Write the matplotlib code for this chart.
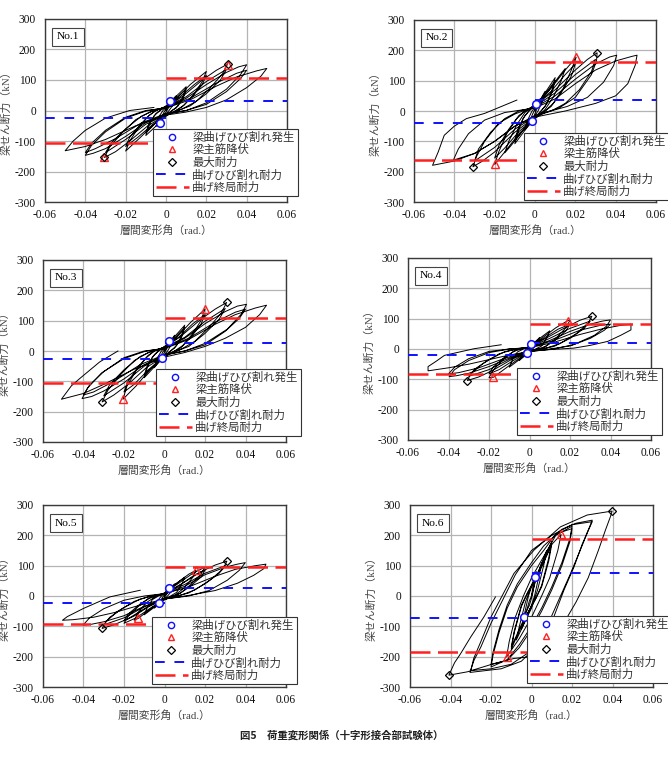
import matplotlib
matplotlib.use("Agg")
import matplotlib.pyplot as plt
from matplotlib.lines import Line2D

plt.rcParams['font.family'] = ['Liberation Serif', 'Noto Sans CJK JP', 'DejaVu Sans']

# ---------------- data ----------------
specimen_labels = ["No.1", "No.2", "No.3", "No.4", "No.5", "No.6"]

crack_strength_pos = [30, 36, 27, 20, 26, 77]
crack_strength_neg = [-26, -38, -28, -19, -22, -72]
ultimate_pos = [108, 161, 110, 82, 96, 187]
ultimate_neg = [-108, -160, -107, -82, -93, -184]

crack_x = [[0.0021, -0.0029], [0.0007, -0.0014], [0.0023, -0.0012], [0.0007, -0.0013], [0.0024, -0.0027], [0.0015, -0.0038]]
crack_y = [[31, -40], [23, -32], [32, -23], [16, -14], [25, -23], [63, -69]]
yield_x = [[0.0307, -0.0305], [0.0204, -0.0200], [0.0200, -0.0204], [0.0188, -0.0178], [0.0156, -0.0130], [0.0146, -0.0123]]
yield_y = [[150, -154], [177, -176], [138, -159], [93, -93], [85, -74], [203, -201]]
max_x = [[0.0305, -0.0305], [0.0308, -0.0308], [0.0307, -0.0308], [0.0308, -0.0307], [0.0308, -0.0308], [0.0398, -0.0408]]
max_y = [[153, -153], [192, -184], [160, -168], [108, -104], [115, -107], [280, -261]]

loop_no1 = [
    (0, 0),
    (0.0021, 31), (0.0025, 35), (0.0015, 12), (0.0005, 0), (-0.001, -15), (-0.0029, -40), (-0.0015, -12), (-0.0005, 0),
    (0.002, 28), (0.005, 48), (0.0035, 18), (0.0015, 0), (0, -12), (-0.005, -52), (-0.0035, -20), (-0.0015, 0), (0, 10),
    (0.004, 40), (0.01, 78), (0.0085, 45), (0.006, 15), (0.003, 0), (0, -18), (-0.004, -45), (-0.01, -82), (-0.0085, -50), (-0.006, -18), (-0.003, 0), (0, 15),
    (0.005, 40), (0.01, 70), (0.0085, 40), (0.005, 8), (0.003, 0), (0, -15), (-0.005, -40), (-0.01, -74), (-0.0085, -44), (-0.005, -10), (-0.003, 0), (0, 12),
    (0.005, 38), (0.012, 85), (0.02, 128), (0.018, 95), (0.014, 55), (0.009, 18), (0.005, 0), (0, -18), (-0.006, -45), (-0.013, -90), (-0.02, -133), (-0.018, -100), (-0.014, -60), (-0.009, -20), (-0.005, 0), (0, 14),
    (0.007, 45), (0.014, 85), (0.02, 115), (0.018, 85), (0.013, 45), (0.008, 12), (0.005, 0), (0, -16), (-0.007, -48), (-0.014, -88), (-0.02, -118), (-0.018, -88), (-0.013, -48), (-0.008, -14), (-0.005, 0), (0, 12),
    (0.008, 45), (0.018, 100), (0.025, 132), (0.0305, 152), (0.028, 120), (0.022, 75), (0.015, 30), (0.008, 5), (0, -15), (-0.009, -50), (-0.018, -100), (-0.025, -135), (-0.0305, -154), (-0.028, -120), (-0.022, -75), (-0.015, -30), (-0.008, -5), (0, 12),
    (0.01, 45), (0.02, 95), (0.03, 135), (0.027, 100), (0.02, 55), (0.012, 15), (0.006, 0), (0, -14), (-0.01, -45), (-0.02, -95), (-0.03, -138), (-0.027, -105), (-0.02, -60), (-0.012, -18), (-0.006, 0), (0, 10),
    (0.01, 40), (0.02, 85), (0.03, 125), (0.036, 143), (0.04, 150), (0.037, 118), (0.03, 70), (0.02, 25), (0.01, 0), (0, -12), (-0.01, -40), (-0.02, -85), (-0.03, -125), (-0.036, -140), (-0.04, -147), (-0.037, -115), (-0.03, -70), (-0.02, -25), (-0.01, -2), (0, 10),
    (0.012, 40), (0.025, 90), (0.035, 122), (0.04, 132), (0.037, 105), (0.03, 62), (0.02, 20), (0.01, 0), (0, -10), (-0.012, -40), (-0.025, -92), (-0.035, -125), (-0.04, -138), (-0.037, -108), (-0.03, -65), (-0.02, -22), (-0.01, 0), (0, 8),
    (0.012, 35), (0.025, 80), (0.035, 110), (0.045, 130), (0.05, 138), (0.047, 112), (0.04, 75), (0.03, 35), (0.02, 10), (0.01, -5), (0, -15), (-0.015, -50), (-0.03, -95), (-0.04, -118), (-0.05, -132), (-0.046, -100), (-0.04, -65), (-0.03, -25), (-0.018, 0), (-0.006, 10),
]

loop_no2 = [
    (0, 0),
    (0.0007, 23), (0.0025, 40), (0.0015, 15), (0.0005, 0), (-0.0014, -32), (-0.0025, -42), (-0.0015, -15), (-0.0005, 0),
    (0.002, 30), (0.005, 65), (0.0035, 30), (0.0015, 0), (0, -15), (-0.005, -62), (-0.0035, -28), (-0.0015, 0), (0, 12),
    (0.004, 50), (0.01, 110), (0.0085, 70), (0.006, 25), (0.003, 0), (0, -25), (-0.004, -55), (-0.01, -108), (-0.0085, -70), (-0.006, -25), (-0.003, 0), (0, 20),
    (0.005, 55), (0.01, 100), (0.0085, 62), (0.005, 15), (0.003, 0), (0, -20), (-0.005, -55), (-0.01, -98), (-0.0085, -60), (-0.005, -15), (-0.003, 0), (0, 18),
    (0.006, 60), (0.012, 115), (0.015, 140), (0.013, 100), (0.009, 45), (0.005, 5), (0, -25), (-0.006, -65), (-0.012, -115), (-0.015, -138), (-0.013, -100), (-0.009, -45), (-0.005, -5), (0, 20),
    (0.008, 75), (0.015, 135), (0.0204, 177), (0.018, 135), (0.014, 75), (0.009, 25), (0.005, 0), (0, -25), (-0.008, -75), (-0.015, -135), (-0.02, -176), (-0.018, -135), (-0.014, -75), (-0.009, -25), (-0.005, 0), (0, 20),
    (0.008, 65), (0.015, 120), (0.02, 155), (0.018, 115), (0.013, 60), (0.008, 15), (0.005, 0), (0, -22), (-0.008, -68), (-0.015, -122), (-0.02, -155), (-0.018, -115), (-0.013, -60), (-0.008, -15), (-0.005, 0), (0, 18),
    (0.01, 70), (0.02, 135), (0.026, 170), (0.0308, 192), (0.0305, 165), (0.028, 120), (0.02, 45), (0.012, 10), (0.005, -5), (0, -20), (-0.01, -70), (-0.02, -135), (-0.026, -165), (-0.0308, -184), (-0.029, -150), (-0.025, -100), (-0.018, -40), (-0.01, -10), (0, 15),
    (0.01, 60), (0.02, 120), (0.03, 170), (0.028, 130), (0.022, 70), (0.015, 25), (0.008, 0), (0, -18), (-0.01, -60), (-0.02, -120), (-0.03, -165), (-0.028, -125), (-0.022, -70), (-0.015, -25), (-0.008, 0), (0, 12),
    (0.01, 50), (0.02, 105), (0.03, 155), (0.037, 178), (0.0405, 184), (0.039, 150), (0.034, 95), (0.026, 45), (0.016, 15), (0.005, -5), (0, -15), (-0.01, -50), (-0.02, -100), (-0.03, -140), (-0.0405, -162), (-0.038, -125), (-0.033, -75), (-0.025, -30), (-0.015, -5), (0, 10),
    (0.01, 40), (0.02, 90), (0.03, 135), (0.04, 165), (0.048, 180), (0.0506, 184), (0.0497, 151), (0.046, 90), (0.04, 50), (0.03, 25), (0.015, 0), (0, -20), (-0.01, -50), (-0.02, -100), (-0.03, -140), (-0.04, -165), (-0.0508, -179), (-0.048, -135), (-0.045, -80), (-0.04, -50), (-0.034, -25), (-0.025, -8), (-0.017, 14), (-0.009, 36),
]

loop_no3 = [
    (0, 0),
    (0.0023, 32), (0.0025, 34), (0.0015, 12), (0.0005, 0), (-0.0005, -10), (-0.0012, -23), (-0.0025, -35), (-0.0015, -12), (-0.0005, 0),
    (0.002, 25), (0.005, 52), (0.0035, 22), (0.0015, 0), (0, -12), (-0.005, -55), (-0.0035, -22), (-0.0015, 0), (0, 10),
    (0.004, 40), (0.01, 85), (0.0085, 52), (0.006, 18), (0.003, 0), (0, -18), (-0.004, -45), (-0.01, -88), (-0.0085, -55), (-0.006, -20), (-0.003, 0), (0, 15),
    (0.005, 42), (0.01, 78), (0.0085, 46), (0.005, 10), (0.003, 0), (0, -15), (-0.005, -45), (-0.01, -80), (-0.0085, -48), (-0.005, -12), (-0.003, 0), (0, 12),
    (0.006, 45), (0.013, 95), (0.02, 138), (0.018, 100), (0.014, 58), (0.009, 18), (0.005, 0), (0, -20), (-0.007, -60), (-0.014, -115), (-0.0205, -159), (-0.0185, -115), (-0.014, -65), (-0.009, -22), (-0.005, 0), (0, 14),
    (0.007, 45), (0.014, 90), (0.02, 120), (0.018, 88), (0.013, 45), (0.008, 10), (0.005, 0), (0, -18), (-0.008, -62), (-0.015, -110), (-0.02, -135), (-0.018, -100), (-0.013, -52), (-0.008, -14), (-0.005, 0), (0, 12),
    (0.008, 48), (0.018, 105), (0.025, 138), (0.0307, 160), (0.028, 125), (0.022, 78), (0.015, 32), (0.008, 5), (0, -16), (-0.009, -55), (-0.018, -110), (-0.025, -145), (-0.0308, -168), (-0.028, -130), (-0.022, -80), (-0.015, -32), (-0.008, -5), (0, 12),
    (0.01, 45), (0.02, 98), (0.03, 140), (0.027, 105), (0.02, 58), (0.012, 15), (0.006, 0), (0, -14), (-0.01, -50), (-0.02, -105), (-0.03, -148), (-0.027, -110), (-0.02, -62), (-0.012, -18), (-0.006, 0), (0, 10),
    (0.01, 42), (0.02, 90), (0.03, 130), (0.036, 148), (0.0405, 154), (0.038, 122), (0.031, 72), (0.02, 25), (0.01, 0), (0, -14), (-0.01, -45), (-0.02, -92), (-0.03, -132), (-0.036, -150), (-0.0407, -157), (-0.038, -122), (-0.031, -72), (-0.02, -25), (-0.01, -2), (0, 10),
    (0.012, 42), (0.025, 95), (0.035, 128), (0.04, 138), (0.037, 108), (0.03, 65), (0.02, 20), (0.01, 0), (0, -12), (-0.012, -45), (-0.025, -100), (-0.035, -135), (-0.04, -145), (-0.037, -112), (-0.03, -68), (-0.02, -22), (-0.01, 0), (0, 8),
    (0.012, 38), (0.025, 88), (0.035, 120), (0.045, 142), (0.0504, 151), (0.047, 120), (0.04, 78), (0.03, 42), (0.02, 15), (0.01, -5), (0, -20), (-0.015, -60), (-0.03, -110), (-0.04, -140), (-0.0509, -159), (-0.046, -115), (-0.0419, -91), (-0.032, -36), (-0.023, 0),
]

loop_no4 = [
    (0, 0),
    (0.0007, 16), (0.0025, 25), (0.0015, 8), (0.0005, 0), (-0.0013, -14), (-0.0025, -24), (-0.0015, -8), (-0.0005, 0),
    (0.002, 18), (0.005, 38), (0.0035, 15), (0.0015, 0), (0, -8), (-0.005, -38), (-0.0035, -15), (-0.0015, 0), (0, 6),
    (0.004, 30), (0.01, 60), (0.0085, 35), (0.006, 10), (0.003, 0), (0, -10), (-0.004, -30), (-0.01, -60), (-0.0085, -36), (-0.006, -10), (-0.003, 0), (0, 8),
    (0.006, 35), (0.013, 70), (0.0188, 93), (0.02, 95), (0.018, 70), (0.013, 35), (0.008, 8), (0.004, 0), (0, -10), (-0.007, -40), (-0.0178, -93), (-0.02, -95), (-0.018, -70), (-0.013, -35), (-0.008, -8), (-0.004, 0), (0, 8),
    (0.007, 35), (0.014, 65), (0.02, 82), (0.018, 60), (0.012, 25), (0.006, 2), (0, -8), (-0.008, -38), (-0.015, -68), (-0.02, -82), (-0.018, -60), (-0.012, -25), (-0.006, -2), (0, 6),
    (0.008, 35), (0.018, 72), (0.025, 95), (0.0308, 108), (0.029, 85), (0.023, 50), (0.015, 18), (0.007, 0), (0, -8), (-0.009, -35), (-0.018, -70), (-0.025, -92), (-0.0307, -104), (-0.029, -82), (-0.023, -48), (-0.015, -16), (-0.007, 0), (0, 6),
    (0.01, 35), (0.02, 68), (0.03, 92), (0.027, 68), (0.02, 35), (0.012, 8), (0.005, 0), (0, -6), (-0.01, -34), (-0.02, -68), (-0.03, -90), (-0.027, -66), (-0.02, -35), (-0.012, -8), (-0.005, 0), (0, 5),
    (0.01, 28), (0.02, 58), (0.03, 82), (0.036, 92), (0.04, 96), (0.038, 75), (0.032, 45), (0.022, 15), (0.012, 0), (0, -8), (-0.01, -30), (-0.02, -58), (-0.03, -80), (-0.036, -88), (-0.0397, -91), (-0.037, -68), (-0.03, -38), (-0.02, -12), (-0.01, 0), (0, 5),
    (0.012, 28), (0.025, 62), (0.035, 78), (0.04, 82), (0.037, 62), (0.03, 35), (0.02, 10), (0.01, 0), (0, -6), (-0.012, -30), (-0.025, -62), (-0.035, -78), (-0.04, -82), (-0.037, -60), (-0.03, -32), (-0.02, -8), (-0.01, 0), (0, 4),
    (0.012, 22), (0.025, 48), (0.035, 65), (0.045, 78), (0.0501, 82), (0.0501, 63), (0.045, 45), (0.0386, 25), (0.03, 12), (0.022, 3), (0.01, -2), (0, -8), (-0.01, -20), (-0.02, -35), (-0.03, -50), (-0.04, -62), (-0.0501, -72), (-0.0501, -58), (-0.046, -40), (-0.042, -21), (-0.0273, 1), (-0.014, 14),
]

loop_no5 = [
    (0, 0),
    (0.0024, 25), (0.0025, 26), (0.0015, 10), (0.0005, 0), (-0.001, -12), (-0.0027, -23), (-0.0015, -10), (-0.0005, 0),
    (0.002, 20), (0.005, 40), (0.0035, 16), (0.0015, 0), (0, -10), (-0.005, -40), (-0.0035, -16), (-0.0015, 0), (0, 8),
    (0.004, 32), (0.01, 62), (0.0085, 38), (0.006, 12), (0.003, 0), (0, -12), (-0.004, -32), (-0.01, -62), (-0.0085, -38), (-0.006, -12), (-0.003, 0), (0, 10),
    (0.006, 42), (0.012, 72), (0.0156, 85), (0.014, 62), (0.01, 28), (0.005, 2), (0, -12), (-0.006, -38), (-0.013, -74), (-0.015, -80), (-0.013, -55), (-0.009, -22), (-0.004, 0), (0, 10),
    (0.007, 42), (0.014, 75), (0.02, 95), (0.018, 72), (0.013, 38), (0.008, 10), (0.004, 0), (0, -10), (-0.007, -40), (-0.014, -72), (-0.02, -90), (-0.018, -68), (-0.013, -35), (-0.008, -8), (-0.004, 0), (0, 8),
    (0.008, 38), (0.015, 70), (0.02, 85), (0.018, 62), (0.012, 28), (0.006, 2), (0, -8), (-0.008, -36), (-0.015, -66), (-0.02, -82), (-0.018, -60), (-0.012, -26), (-0.006, -2), (0, 7),
    (0.008, 38), (0.018, 80), (0.025, 102), (0.0308, 115), (0.029, 90), (0.023, 55), (0.015, 20), (0.007, 0), (0, -10), (-0.009, -38), (-0.018, -75), (-0.025, -95), (-0.0308, -107), (-0.029, -85), (-0.023, -50), (-0.015, -18), (-0.007, 0), (0, 8),
    (0.01, 38), (0.02, 75), (0.03, 100), (0.027, 75), (0.02, 40), (0.012, 10), (0.006, 0), (0, -8), (-0.01, -36), (-0.02, -72), (-0.03, -95), (-0.027, -70), (-0.02, -38), (-0.012, -10), (-0.006, 0), (0, 6),
    (0.01, 32), (0.02, 70), (0.03, 95), (0.036, 105), (0.0399, 110), (0.037, 85), (0.031, 52), (0.022, 18), (0.012, 0), (0, -10), (-0.01, -34), (-0.02, -65), (-0.03, -85), (-0.036, -93), (-0.0402, -96), (-0.037, -72), (-0.03, -42), (-0.02, -14), (-0.01, 0), (0, 8),
    (0.012, 30), (0.025, 65), (0.035, 88), (0.045, 100), (0.0501, 105), (0.049, 90), (0.044, 68), (0.036, 42), (0.025, 18), (0.012, 2), (0, -10), (-0.012, -30), (-0.025, -55), (-0.035, -70), (-0.045, -78), (-0.0504, -80), (-0.048, -68), (-0.04, -41), (-0.027, -3), (-0.012, 19),
]

loop_no6 = [
    (0, 0),
    (0.0015, 63), (0.0025, 80), (0.0015, 40), (0.0003, 0), (-0.001, -30), (-0.0038, -69), (-0.0025, -50), (-0.001, -15), (0, 0),
    (0.002, 50), (0.005, 110), (0.0035, 60), (0.0015, 0), (0, -30), (-0.005, -110), (-0.0035, -60), (-0.0015, 0), (0, 30),
    (0.003, 70), (0.0075, 150), (0.006, 100), (0.003, 20), (0, -40), (-0.0075, -145), (-0.006, -100), (-0.003, -20), (0, 35),
    (0.004, 90), (0.01, 180), (0.0085, 125), (0.005, 35), (0.002, -10), (-0.004, -85), (-0.01, -175), (-0.0085, -120), (-0.005, -35), (-0.002, 10),
    (0.004, 80), (0.01, 170), (0.0085, 115), (0.005, 30), (0.002, -10), (-0.004, -80), (-0.01, -168), (-0.0085, -115), (-0.005, -30), (-0.002, 10),
    (0.005, 100), (0.01, 170), (0.0146, 203), (0.013, 150), (0.009, 60), (0.005, 0), (0, -70), (-0.006, -140), (-0.0123, -201), (-0.011, -150), (-0.008, -70), (-0.004, 0), (0, 60),
    (0.006, 130), (0.012, 200), (0.02, 230), (0.019, 190), (0.015, 110), (0.01, 30), (0.005, -40), (0, -100), (-0.006, -160), (-0.012, -210), (-0.02, -234), (-0.019, -195), (-0.016, -120), (-0.012, -40), (-0.007, 30), (0, 100),
    (0.006, 150), (0.012, 205), (0.02, 222), (0.019, 180), (0.015, 100), (0.01, 20), (0.005, -50), (0, -110), (-0.006, -170), (-0.012, -212), (-0.02, -226), (-0.019, -185), (-0.016, -110), (-0.012, -30), (-0.007, 40), (0, 110),
    (0.006, 165), (0.015, 220), (0.022, 240), (0.03, 250), (0.0285, 225), (0.025, 170), (0.021, 96), (0.016, 19), (0.011, -69), (0.005, -150), (-0.005, -215), (-0.015, -240), (-0.0304, -252), (-0.0284, -212), (-0.025, -168), (-0.02, -90), (-0.014, -10), (-0.008, 70), (0, 150),
    (0.01, 200), (0.02, 235), (0.03, 245), (0.028, 215), (0.024, 150), (0.019, 70), (0.013, -20), (0.007, -110), (0, -180), (-0.01, -225), (-0.02, -240), (-0.03, -246), (-0.0285, -205), (-0.025, -150),
    (-0.02, -69), (-0.0087, 74), (0.0012, 151), (0.0143, 228), (0.0275, 267), (0.0398, 280),
    (0.039, 262), (0.0365, 217), (0.033, 150), (0.028, 60), (0.022, -20), (0.015, -100), (0.008, -160), (0, -200), (-0.0087, -206), (-0.0186, -223), (-0.0317, -250), (-0.0408, -261),
    (-0.038, -220), (-0.035, -190), (-0.03, -135), (-0.0235, -69), (-0.0178, -3),
]

loops = [loop_no1, loop_no2, loop_no3, loop_no4, loop_no5, loop_no6]

x_ticks = [-0.06, -0.04, -0.02, 0, 0.02, 0.04, 0.06]
x_tick_labels = ["-0.06", "-0.04", "-0.02", "0", "0.02", "0.04", "0.06"]
y_ticks = [-300, -200, -100, 0, 100, 200, 300]
y_tick_labels = ["-300", "-200", "-100", "0", "100", "200", "300"]

legend_labels = ["梁曲げひび割れ発生", "梁主筋降伏", "最大耐力", "曲げひび割れ耐力", "曲げ終局耐力"]
x_label = "層間変形角（rad.）"
y_label = "梁せん断力（kN）"
caption = "図5　荷重変形関係（十字形接合部試験体）"

# ---------------- layout (pixels) ----------------
W, H = 668, 763
axes_px = [(45, 19, 287, 202), (414, 20, 656, 202),
           (43, 260, 286, 442), (408, 258, 651, 440),
           (43, 505, 286, 687), (410, 505, 653, 687)]
legend_px = [(153, 129), (524, 133), (156, 369), (517, 368), (152, 617), (527, 616)]

fig = plt.figure(figsize=(W / 100, H / 100), dpi=100)
jp = ['Liberation Serif', 'Noto Sans CJK JP']

BLUE = '#1010ff'
RED = '#ff2020'

for i in range(6):
    x0, y0, x1, y1 = axes_px[i]
    ax = fig.add_axes([x0 / W, 1 - y1 / H, (x1 - x0) / W, (y1 - y0) / H])
    ax.set_xlim(-0.06, 0.06)
    ax.set_ylim(-300, 300)
    ax.set_xticks(x_ticks)
    ax.set_xticklabels(x_tick_labels)
    ax.set_yticks(y_ticks)
    ax.set_yticklabels(y_tick_labels)
    ax.tick_params(length=0, labelsize=8.3, colors='#111')
    ax.tick_params(axis='y', pad=6.5)
    ax.tick_params(axis='x', pad=5)
    ax.grid(True, color='#b4b4b4', lw=0.9)
    ax.set_axisbelow(True)
    for s in ax.spines.values():
        s.set_color('#3a3a3a')
        s.set_linewidth(1.0)

    xs = [p[0] for p in loops[i]]
    ys = [p[1] for p in loops[i]]
    ax.plot(xs, ys, color='black', lw=0.7, zorder=3)

    ax.plot([0, 0.06], [crack_strength_pos[i]] * 2, color=BLUE, lw=1.4, dashes=(5, 5), zorder=4)
    ax.plot([-0.06, 0], [crack_strength_neg[i]] * 2, color=BLUE, lw=1.4, dashes=(5, 5), zorder=4)
    ax.plot([0, 0.06], [ultimate_pos[i]] * 2, color=RED, lw=1.8, dashes=(8, 3), zorder=4)
    ax.plot([-0.06, 0], [ultimate_neg[i]] * 2, color=RED, lw=1.8, dashes=(8, 3), zorder=4)

    ax.plot(crack_x[i], crack_y[i], ls='none', marker='o', ms=5.5, mfc='white', mec=BLUE, mew=1.1, zorder=6)
    ax.plot(yield_x[i], yield_y[i], ls='none', marker='^', ms=6, mfc='none', mec=RED, mew=1.0, zorder=6)
    ax.plot(max_x[i], max_y[i], ls='none', marker='D', ms=4.2, mfc='none', mec='black', mew=0.9, zorder=6)

    ax.text(11.5 / (x1 - x0), 1 - 13.5 / (y1 - y0), specimen_labels[i], transform=ax.transAxes,
            ha='left', va='top', fontsize=8.2, family='Liberation Serif', zorder=7,
            bbox=dict(boxstyle='square,pad=0.4', fc='white', ec='#444', lw=0.8))

    ax.set_xlabel(x_label, family=jp, fontsize=7.8, color='#444')
    ax.set_ylabel(y_label, family=jp, fontsize=7.8, color='#444')
    ax.xaxis.set_label_coords(0.5, -23 / (y1 - y0))
    ax.yaxis.set_label_coords(-33 / (x1 - x0), 0.5)

    handles = [
        Line2D([], [], ls='none', marker='o', ms=4.5, mfc='none', mec=BLUE, mew=1.0),
        Line2D([], [], ls='none', marker='^', ms=5, mfc='none', mec=RED, mew=1.0),
        Line2D([], [], ls='none', marker='D', ms=3.8, mfc='none', mec='black', mew=0.9),
        Line2D([], [], color=BLUE, lw=1.4, dashes=(5, 5)),
        Line2D([], [], color=RED, lw=1.8, dashes=(8, 3)),
    ]
    lx, ly = legend_px[i]
    leg = fig.legend(handles, legend_labels, loc='upper left', bbox_to_anchor=(lx / W, 1 - ly / H),
                     bbox_transform=fig.transFigure, prop={'family': jp, 'size': 8.2},
                     frameon=True, fancybox=False, framealpha=1, edgecolor='#333',
                     borderpad=0.25, labelspacing=0.12, handlelength=2.9, handletextpad=0.3,
                     borderaxespad=0)
    leg.get_frame().set_linewidth(0.8)
    for t in leg.get_texts():
        t.set_color('#333')

fig.text(342 / W, 1 - 735 / H, caption, ha='center', va='center', fontsize=7.5,
         family=['Noto Sans CJK JP'], weight='bold', color='#222')

fig.savefig('out.png', dpi=100)
